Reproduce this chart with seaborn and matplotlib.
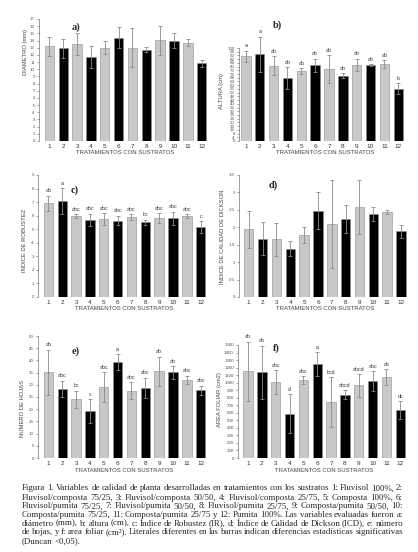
import numpy as np
import pandas as pd
import matplotlib
matplotlib.use('Agg')
import matplotlib.pyplot as plt
import seaborn as sns

W, H = 418, 552

tratamientos = [str(i) for i in range(1, 13)]
colores = ['#c8c8c8', '#000000'] * 6

# a) diametro (mm)
diametro = [13.2, 12.9, 13.5, 11.7, 13.0, 14.4, 13.0, 12.75, 14.05, 14.0, 13.7, 10.8]
diametro_err = [1.3, 1.3, 1.5, 1.5, 0.9, 1.5, 2.7, 0.3, 2.0, 1.0, 0.5, 0.5]

# b) altura (cm)
altura = [91, 93.2, 81, 67.4, 75.3, 81.4, 77.4, 70.2, 81.7, 81.7, 82.8, 56.2]
altura_err = [6, 19, 10, 12, 3, 7, 15, 2.5, 6.5, 1, 4, 6]
altura_letras = ['a', 'a', 'ab', 'ab', 'ab', 'ab', 'ab', 'ab', 'ab', 'ab', 'ab', 'b']

# c) indice de robustez
robustez = [6.91, 7.08, 5.97, 5.68, 5.73, 5.63, 5.9, 5.5, 5.83, 5.8, 5.97, 5.14]
robustez_err = [0.55, 0.95, 0.15, 0.45, 0.45, 0.35, 0.2, 0.2, 0.35, 0.5, 0.13, 0.45]
robustez_letras = ['ab', 'a', 'abc', 'abc', 'abc', 'abc', 'abc', 'bc', 'abc', 'abc', 'abc', 'c']

# d) indice de calidad de Dickson
dickson = [1.94, 1.67, 1.65, 1.39, 1.77, 2.48, 2.09, 2.23, 2.58, 2.37, 2.43, 1.88]
dickson_err = [0.53, 0.47, 0.46, 0.22, 0.23, 0.52, 1.27, 0.4, 0.77, 0.2, 0.06, 0.18]

# e) numero de hojas
hojas = [35.1, 28.3, 24.0, 19.3, 29.0, 39.2, 27.6, 28.7, 35.5, 35.1, 32.0, 27.7]
hojas_err = [9.2, 3.3, 3.5, 4.8, 6.2, 3.3, 3.5, 4.2, 5.9, 2.6, 1.7, 1.9]
hojas_letras = ['ab', 'abc', 'bc', 'c', 'abc', 'a', 'abc', 'abc', 'ab', 'ab', 'abc', 'abc']

# f) area foliar (cm2)
area = [1151, 1138, 1005, 588, 1032, 1244, 744, 841, 965, 1018, 1072, 637]
area_err = [390, 350, 160, 258, 53, 160, 330, 60, 150, 133, 106, 116]
area_letras = ['ab', 'ab', 'abc', 'd', 'abc', 'a', 'bcd', 'abcd', 'abcd', 'abc', 'ab', 'dc']

caption = [
    "Figura 1. Variables de calidad de planta desarrolladas en tratamientos con los sustratos 1: Fluvisol 100%, 2:",
    "Fluvisol/composta 75/25, 3: Fluvisol/composta 50/50, 4: Fluvisol/composta 25/75, 5: Composta 100%, 6:",
    "Fluvisol/pumita 75/25, 7: Fluvisol/pumita 50/50, 8: Fluvisol/pumita 25/75, 9: Composta/pumita 50/50, 10:",
    "Composta/pumita 75/25, 11: Composta/pumita 25/75 y 12: Pumita 100%. Las variables evaluadas fueron a:",
    "diámetro (mm), b: altura (cm), c: Índice de Robustez (IR), d: Índice de Calidad de Dickson (ICD), e: número",
    "de hojas, y f: area foliar (cm²). Literales diferentes en las barras indican diferencias estadísticas significativas",
    "(Duncan <0,05).",
]

sns.set_style('ticks')
plt.rcParams['font.family'] = ['Liberation Sans', 'DejaVu Sans']

fig = plt.figure(figsize=(W / 100, H / 100), dpi=100)

# panel: values, errors, letters, ylabel, ymax, step, left px, top px, bottom px, xlim left, ylabel px, tag, tag px
paneles = [
    (diametro, diametro_err, None, 'DIAMETRO (mm)', 17, 1, 39, 19, 141, -0.75, (25, 52), 'a)', (76, 27)),
    (altura, altura_err, altura_letras, 'ALTURA (cm)', 100, 4, 239, 48, 141, -0.5, (221, 91), 'b)', (277, 25)),
    (robustez, robustez_err, robustez_letras, 'INDICE DE ROBUSTEZ', 9, 1, 38, 175, 297, -0.75, (25, 240), 'c)', (75, 190)),
    (dickson, dickson_err, None, 'INDICE DE CALIDAD DE DICKSON', 3.5, 0.5, 239, 175, 297, -0.7, (223, 237), 'd)', (273, 185)),
    (hojas, hojas_err, hojas_letras, 'NUMERO DE HOJAS', 50, 5, 38, 336, 458, -0.75, (23, 408), 'e)', (76, 351)),
    (area, area_err, area_letras, 'AREA FOLIAR (cm2)', 1500, 100, 238, 345, 458, -0.72, (220, 400), 'f)', (276, 348)),
]

paso = 13.85  # px per treatment

for vals, errs, letras, ylab, ymax, step, lpx, tpx, bpx, xl, ylpos, tag, tagpos in paneles:
    ancho = (11.5 - xl) * paso
    ax = fig.add_axes([lpx / W, 1 - bpx / H, ancho / W, (bpx - tpx) / H])
    df = pd.DataFrame({'trat': tratamientos, 'valor': vals})
    sns.barplot(data=df, x='trat', y='valor', hue='trat', palette=colores,
                legend=False, width=0.68, ax=ax, linewidth=0.4,
                edgecolor='#8c8c8c', saturation=1)
    ax.errorbar(np.arange(12), vals, yerr=errs, fmt='none', ecolor='#8a8a8a',
                elinewidth=0.6, capsize=1.3, capthick=0.6, clip_on=False, zorder=5)
    if letras is not None:
        for i, (v, e, l) in enumerate(zip(vals, errs, letras)):
            ax.annotate(l, (i, v + e), xytext=(0, 1.8), textcoords='offset points',
                        ha='center', va='bottom', fontsize=3.8, color='#333333',
                        annotation_clip=False)
    ax.set_xlim(xl, 11.5)
    ax.set_ylim(0, ymax)
    yt = np.arange(0, ymax + step / 2, step)
    ax.set_yticks(yt)
    ax.set_yticklabels(['{:g}'.format(round(t, 2)) for t in yt])
    ax.tick_params(axis='y', labelsize=3.2, length=1.8, width=0.4, pad=1.2,
                   colors='#555555')
    ax.tick_params(axis='x', labelsize=4.6, length=0, pad=2.2, colors='#333333')
    ax.set_xlabel('')
    ax.set_ylabel('')
    sns.despine(ax=ax, bottom=True)
    ax.spines['left'].set_linewidth(0.5)
    ax.spines['left'].set_color('#777777')
    ax.patch.set_alpha(0)
    fig.text(ylpos[0] / W, 1 - ylpos[1] / H, ylab, rotation=90, ha='center',
             va='center', fontsize=4.2, color='#444444')
    fig.text((lpx + 86) / W, 1 - (bpx + 12) / H, 'TRATAMIENTOS CON SUSTRATOS',
             ha='center', va='center', fontsize=4.3, color='#444444')
    fig.text(tagpos[0] / W, 1 - tagpos[1] / H, tag, ha='center', va='center',
             fontsize=7.5, fontweight='bold', family='Liberation Serif')

# caption, justified line by line (baseline aligned)
renderer = fig.canvas.get_renderer()
x0, x1 = 22, 403
lineas_y = [490.5, 499.5, 508.5, 517, 525.5, 534, 543.5]
for k, (linea, ypx) in enumerate(zip(caption, lineas_y)):
    palabras = linea.split(' ')
    objs, anchos = [], []
    for p in palabras:
        t = fig.text(0, 1 - ypx / H, p, fontsize=6.4, family='Liberation Serif',
                     va='baseline', ha='left')
        objs.append(t)
        anchos.append(t.get_window_extent(renderer).width)
    if k == len(caption) - 1:
        gap = 2.0
    else:
        gap = max((x1 - x0 - sum(anchos)) / (len(palabras) - 1), 1.0)
    x = x0
    for t, a in zip(objs, anchos):
        t.set_x(x / W)
        x += a + gap

fig.savefig('out.png', dpi=100, facecolor='white')
